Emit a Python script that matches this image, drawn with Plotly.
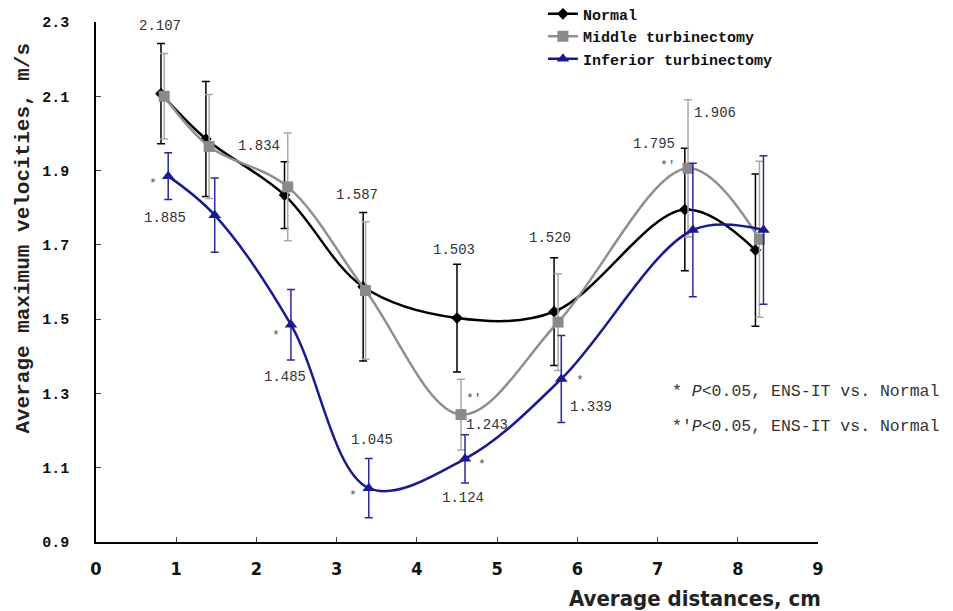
import plotly.graph_objects as go

# ---- data ----
x_normal = [0.81, 1.37, 2.35, 3.33, 4.50, 5.71, 7.34, 8.22]
y_normal = [2.107, 1.985, 1.834, 1.587, 1.503, 1.520, 1.795, 1.686]
err_normal = [0.135, 0.155, 0.090, 0.200, 0.145, 0.145, 0.165, 0.205]

x_middle = [0.85, 1.41, 2.39, 3.36, 4.55, 5.76, 7.38, 8.27]
y_middle = [2.100, 1.965, 1.856, 1.577, 1.243, 1.492, 1.906, 1.715]
err_middle = [0.115, 0.140, 0.145, 0.185, 0.095, 0.130, 0.185, 0.210]

x_inferior = [0.90, 1.48, 2.43, 3.40, 4.60, 5.80, 7.44, 8.32]
y_inferior = [1.885, 1.780, 1.485, 1.045, 1.124, 1.339, 1.740, 1.740]
err_inferior = [0.063, 0.100, 0.095, 0.080, 0.065, 0.117, 0.180, 0.200]

series_names = ["Normal", "Middle turbinectomy", "Inferior turbinectomy"]
y_ticks = [0.9, 1.1, 1.3, 1.5, 1.7, 1.9, 2.1, 2.3]
x_ticks = [0, 1, 2, 3, 4, 5, 6, 7, 8, 9]

# value labels: (series, point index, text, xshift, yshift)
value_labels = [
    ("n", 0, "2.107", -1, 68), ("n", 2, "1.834", -26, 49), ("n", 3, "1.587", -6, 92),
    ("n", 4, "1.503", -3, 68), ("n", 5, "1.520", -4, 74), ("n", 6, "1.795", -31, 66),
    ("m", 6, "1.906", 27, 55), ("m", 4, "1.243", 26, -10),
    ("i", 0, "1.885", -3, -42), ("i", 2, "1.485", -6, -52), ("i", 3, "1.045", 3, 48),
    ("i", 4, "1.124", -2, -39), ("i", 5, "1.339", 30, -28),
]
star_labels = [
    ("i", 0, "*", -15, -7), ("i", 2, "*", -15, -11), ("i", 3, "*", -16, -7),
    ("i", 4, "*", 17, -6), ("i", 5, "*", 19, -2),
    ("m", 4, "*′", 13, 16), ("m", 6, "*′", -20, 3),
]
note_texts = ["* <i>P</i>&lt;0.05, ENS-IT vs. Normal", "*′<i>P</i>&lt;0.05, ENS-IT vs. Normal"]

data = {"n": (x_normal, y_normal), "m": (x_middle, y_middle), "i": (x_inferior, y_inferior)}

COND = "DejaVu Sans Condensed, Liberation Sans Narrow, Roboto Condensed, Liberation Sans, sans-serif"

fig = go.Figure()
fig.add_trace(go.Scatter(
    x=x_normal, y=y_normal, name="<b>" + series_names[0] + "</b>", mode="lines+markers",
    line=dict(color="#000000", width=2.5, shape="spline", smoothing=1.0),
    marker=dict(symbol="diamond", size=9, color="#000000"),
    error_y=dict(type="data", array=err_normal, color="#000000", thickness=1.5, width=4),
))
fig.add_trace(go.Scatter(
    x=x_middle, y=y_middle, name="<b>" + series_names[1] + "</b>", mode="lines+markers",
    line=dict(color="#8f8f8f", width=2.5, shape="spline", smoothing=1.0),
    marker=dict(symbol="square", size=11, color="#8a8a8a"),
    error_y=dict(type="data", array=err_middle, color="#a8a8a8", thickness=1.5, width=4),
))
fig.add_trace(go.Scatter(
    x=x_inferior, y=y_inferior, name="<b>" + series_names[2] + "</b>", mode="lines+markers",
    line=dict(color="#1a1a90", width=2.5, shape="spline", smoothing=1.0),
    marker=dict(symbol="triangle-up", size=11, color="#1a1a90"),
    error_y=dict(type="data", array=err_inferior, color="#2a2aa0", thickness=1.5, width=4),
))

annotations = []
for key, idx, txt, dx, dy in value_labels:
    xs, ys = data[key]
    annotations.append(dict(x=xs[idx], y=ys[idx], xref="x", yref="y", text=txt,
                            showarrow=False, xshift=dx, yshift=dy,
                            font=dict(family="Liberation Mono", size=14, color="#333333")))
for key, idx, txt, dx, dy in star_labels:
    xs, ys = data[key]
    annotations.append(dict(x=xs[idx], y=ys[idx], xref="x", yref="y", text=txt,
                            showarrow=False, xshift=dx, yshift=dy,
                            font=dict(family="Liberation Mono", size=13, color="#555555")))
for k, t in enumerate(note_texts):
    annotations.append(dict(x=0.795, y=0.29 - k * 0.067, xref="paper", yref="paper", text=t,
                            showarrow=False, xanchor="left", yanchor="middle",
                            font=dict(family="Liberation Mono", size=16.5, color="#333333")))
# axis titles
annotations.append(dict(x=0.83, y=-0.108, xref="paper", yref="paper",
                        text="Average distances, cm", showarrow=False,
                        xanchor="center", yanchor="middle",
                        font=dict(family=COND, size=22, color="#222222", weight="bold")))
annotations.append(dict(x=-0.1, y=0.585, xref="paper", yref="paper",
                        text="<b>Average maximum velocities, m/s</b>", showarrow=False,
                        textangle=-90, xanchor="center", yanchor="middle",
                        font=dict(family="Liberation Mono", size=21, color="#222222")))

fig.update_layout(
    width=945, height=603,
    margin=dict(l=88, r=135, t=14, b=69, autoexpand=False),
    paper_bgcolor="white", plot_bgcolor="white",
    showlegend=True,
    legend=dict(x=0.619, y=1.047, xanchor="left", yanchor="top",
                bgcolor="rgba(0,0,0,0)", itemwidth=30, tracegroupgap=0,
                font=dict(family="Liberation Mono", size=15, color="#111111")),
    annotations=annotations,
)
fig.update_xaxes(range=[0, 9], tickvals=x_ticks, ticks="inside", ticklen=5,
                 showline=True, linecolor="black", linewidth=1.5, showgrid=False,
                 zeroline=False, ticklabelstandoff=10,
                 tickfont=dict(family=COND, size=18, color="#111111", weight="bold"))
fig.update_yaxes(range=[0.9, 2.3], tickvals=y_ticks, ticktext=[f"<b>{v:.1f}</b>" for v in y_ticks],
                 ticks="inside", ticklen=5, ticklabelstandoff=22,
                 showline=True, linecolor="black", linewidth=1.5, showgrid=False, zeroline=False,
                 tickfont=dict(family="Liberation Mono", size=15, color="#111111"))

fig.write_html("out.html")
